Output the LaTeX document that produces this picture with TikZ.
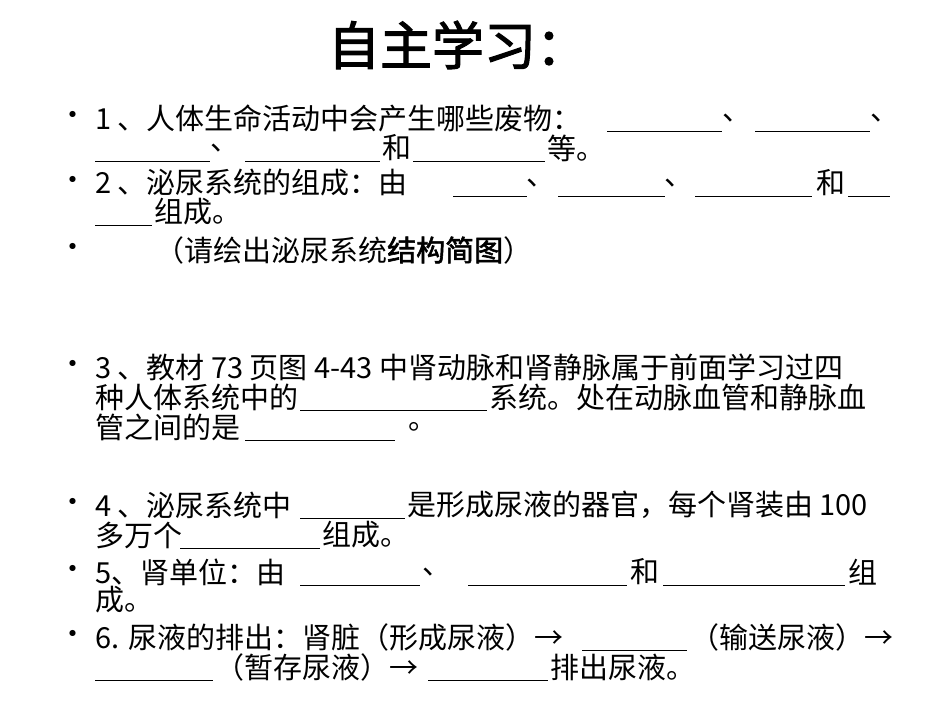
\documentclass[tikz,border=0pt]{standalone}
\usepackage{fontspec}
\setmainfont{Noto Sans CJK SC}
\newfontfamily\bcjk[FakeBold=2]{Noto Sans CJK SC}
\tikzset{txt/.style={anchor=west,inner sep=0pt,font=\fontsize{29}{29}\selectfont},
 blank/.style={line width=0.9pt}}
\newcommand\T[4]{\node[txt] (#1) at (#2,#3) {#4};}
\newcommand\B[4]{\coordinate (#1a) at (#2,#4+13); \coordinate (#1b) at (#3,#4+13); \draw[blank] (#1a) -- (#1b);}
\begin{document}
\begin{tikzpicture}[x=1pt,y=-1pt]
\fill[white] (0,0) rectangle (950,713);
\useasboundingbox (0,0) rectangle (950,713);
\node[font=\fontsize{52}{52}\selectfont\bcjk] (title) at (458,45) {自主学习：};
\foreach \y [count=\i] in {118,183,250,367,505,572,637} \node[txt] (bul\i) at (58,\y) {•};
% line 1
\T{a1}{95}{118}{1 、人体生命活动中会产生哪些废物：}
\B{u1}{607}{722}{118} \T{a2}{722}{118}{、}
\B{u2}{755}{870}{118} \T{a3}{870}{118}{、}
\B{u3}{95}{210}{148} \T{a4}{210}{148}{、}
\B{u4}{245}{380}{148} \T{a5}{382}{148}{和}
\B{u5}{413}{545}{148} \T{a6}{547}{148}{等。}
% line 2
\T{b1}{95}{183}{2 、泌尿系统的组成：由}
\B{v1}{453}{527}{183} \T{b2}{526}{183}{、}
\B{v2}{558}{665}{183} \T{b3}{664}{183}{、}
\B{v3}{695}{812}{183} \T{b4}{816}{183}{和}
\B{v4}{848}{890}{183}
\B{v5}{95}{152}{212} \T{b5}{154}{212}{组成。}
\node[txt] (c1) at (155,250) {（请绘出泌尿系统{\bcjk 结构简图}）};
% 3
\T{d1}{95}{367}{3 、教材 73 页图 4-43 中肾动脉和肾静脉属于前面学习过四}
\T{d2}{95}{397}{种人体系统中的}
\B{w1}{300}{487}{397} \T{d3}{489}{397}{系统。处在动脉血管和静脉血}
\T{d4}{95}{427}{管之间的是}
\B{w2}{245}{395}{427} \T{d5}{408}{427}{。}
% 4
\T{e1}{95}{505}{4 、泌尿系统中}
\B{x1}{300}{405}{505} \T{e2}{407}{505}{是形成尿液的器官，每个肾装由 100}
\T{e3}{95}{535}{多万个}
\B{x2}{180}{320}{535} \T{e4}{322}{535}{组成。}
% 5
\T{f1}{95}{572}{5、肾单位：由}
\B{y1}{300}{420}{572} \T{f2}{422}{572}{、}
\B{y2}{468}{627}{572} \T{f3}{630}{572}{和}
\B{y3}{663}{845}{572} \T{f4}{848}{572}{组}
\T{f5}{95}{600}{成。}
% 6
\T{g1}{95}{637}{6. 尿液的排出：肾脏（形成尿液）→}
\B{z1}{582}{687}{637} \T{g2}{690}{637}{（输送尿液）→}
\B{z2}{95}{213}{667} \T{g3}{215}{667}{（暂存尿液）→}
\B{z3}{428}{548}{667} \T{g4}{550}{667}{排出尿液。}
\end{tikzpicture}
\end{document}
